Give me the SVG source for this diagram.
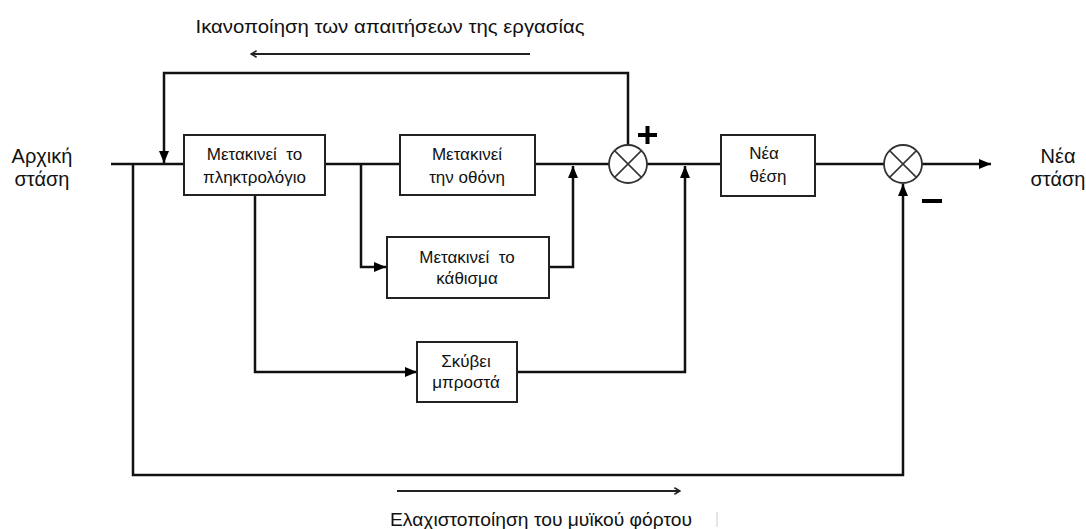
<svg xmlns="http://www.w3.org/2000/svg" width="1086" height="529" viewBox="0 0 1086 529">
<defs>
<marker id="ah" viewBox="0 0 12 10" refX="12" refY="5" markerWidth="12" markerHeight="10" markerUnits="userSpaceOnUse" orient="auto">
<path d="M0,0 L12,5 L0,10 Z" fill="#000"/>
</marker>
<marker id="thin" viewBox="0 0 10 10" refX="9" refY="5" markerWidth="8" markerHeight="8" markerUnits="userSpaceOnUse" orient="auto">
<path d="M2,1 L9,5 L2,9" fill="none" stroke="#222" stroke-width="2"/>
</marker>
<style>
.ln{fill:none;stroke:#111;stroke-width:2.5}
.box{fill:#fff;stroke:#222;stroke-width:2}
.sum{fill:#fff;stroke:#333;stroke-width:1.8}
.x{stroke:#333;stroke-width:1.5}
.t{font-family:"Liberation Sans",Arial,sans-serif;font-size:17px;fill:#111;text-anchor:middle}
.big{font-family:"Liberation Sans",Arial,sans-serif;font-size:20px;fill:#111;text-anchor:middle}
.cap{font-family:"Liberation Sans",Arial,sans-serif;font-size:19px;fill:#111;text-anchor:middle}
.sign{stroke:#000;stroke-width:4}
</style>
</defs>
<g id="connectors">
<path class="ln" d="M111,164 H184"/>
<path class="ln" d="M325,164 H400"/>
<path class="ln" d="M535,164 H609"/>
<path class="ln" d="M647,164 H721"/>
<path class="ln" d="M815,164 H884"/>
<path class="ln" d="M922,164 H991" marker-end="url(#ah)"/>
<path class="ln" d="M628,145 V73 H164 V163" marker-end="url(#ah)"/>
<path class="ln" d="M133,164 V475 H903 V184" marker-end="url(#ah)"/>
<path class="ln" d="M361,164 V267 H386" marker-end="url(#ah)"/>
<path class="ln" d="M549,267 H573 V166" marker-end="url(#ah)"/>
<path class="ln" d="M255,195 V372 H417" marker-end="url(#ah)"/>
<path class="ln" d="M517,372 H685 V166" marker-end="url(#ah)"/>
<path fill="none" stroke="#222" stroke-width="2" d="M530,54 H251" marker-end="url(#thin)"/>
<path fill="none" stroke="#222" stroke-width="2" d="M397,491 H680" marker-end="url(#thin)"/>
<path fill="none" stroke="#ccc" stroke-width="1" d="M717,512 V527"/>
</g>
<g id="n-keyboard">
<rect class="box" x="184" y="135" width="141" height="60"/>
<text class="t" x="254.5" y="160" xml:space="preserve">Μετακινεί  το</text>
<text class="t" x="254.5" y="183">πληκτρολόγιο</text>
</g>
<g id="n-screen">
<rect class="box" x="400" y="135" width="135" height="60"/>
<text class="t" x="467" y="160">Μετακινεί</text>
<text class="t" x="467" y="183">την οθόνη</text>
</g>
<g id="n-seat">
<rect class="box" x="387" y="237" width="162" height="61"/>
<text class="t" x="467" y="263" xml:space="preserve">Μετακινεί  το</text>
<text class="t" x="467" y="284">κάθισμα</text>
</g>
<g id="n-lean">
<rect class="box" x="417" y="342" width="100" height="60"/>
<text class="t" x="466" y="367">Σκύβει</text>
<text class="t" x="466" y="388">μπροστά</text>
</g>
<g id="n-newpos">
<rect class="box" x="721" y="135" width="94" height="61"/>
<text class="t" x="764" y="159">Νέα</text>
<text class="t" x="768" y="182">θέση</text>
</g>
<g id="sum1">
<circle class="sum" cx="628" cy="164" r="19"/>
<path class="x" d="M614.6,150.6 L641.4,177.4 M641.4,150.6 L614.6,177.4"/>
<path class="sign" d="M638,135 H657 M647.5,126 V144"/>
</g>
<g id="sum2">
<circle class="sum" cx="903" cy="164" r="19"/>
<path class="x" d="M889.6,150.6 L916.4,177.4 M916.4,150.6 L889.6,177.4"/>
<path class="sign" d="M922,201 H942"/>
</g>
<g id="labels">
<text class="big" x="42" y="163">Αρχική</text>
<text class="big" x="42" y="186">στάση</text>
<text class="big" x="1058" y="163">Νέα</text>
<text class="big" x="1058" y="186">στάση</text>
<text class="cap" x="390" y="33" textLength="389" lengthAdjust="spacingAndGlyphs">Ικανοποίηση των απαιτήσεων της εργασίας</text>
<text class="cap" x="541" y="526" textLength="302" lengthAdjust="spacingAndGlyphs">Ελαχιστοποίηση του μυϊκού φόρτου</text>
</g>
</svg>
